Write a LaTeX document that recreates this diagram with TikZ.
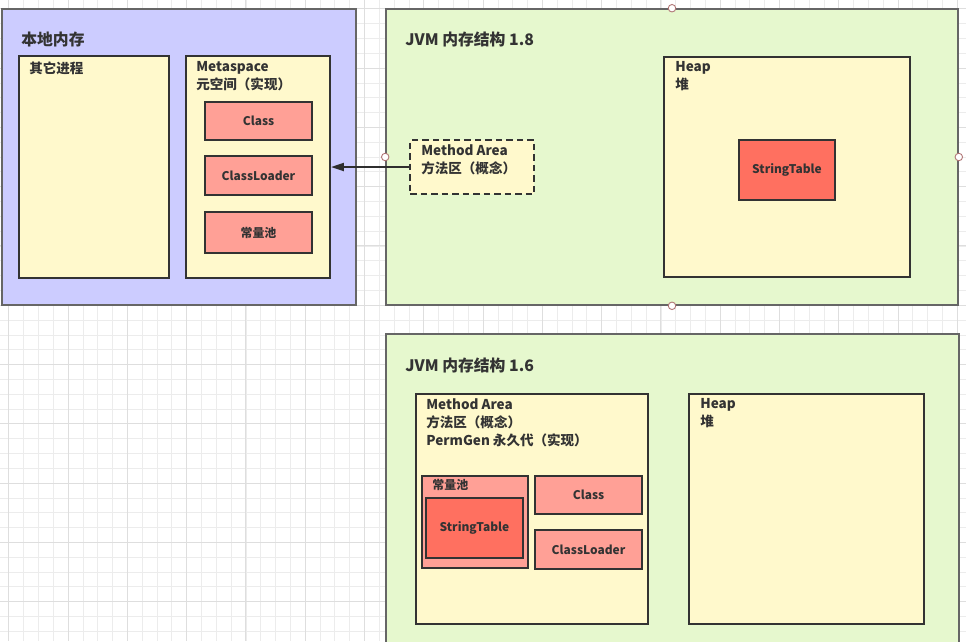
\documentclass[tikz,border=0pt]{standalone}
\usepackage{fontspec}
\setmainfont{Noto Sans CJK SC}
\usetikzlibrary{arrows.meta, positioning, fit}
\definecolor{nativeblue}{RGB}{204,204,255}
\definecolor{jvmgreen}{RGB}{230,248,206}
\definecolor{areayellow}{RGB}{255,249,204}
\definecolor{partred}{RGB}{255,160,150}
\definecolor{tablered}{RGB}{255,112,96}
\definecolor{edgegray}{RGB}{51,51,51}
\definecolor{textgray}{RGB}{51,51,51}
\definecolor{gridminor}{RGB}{236,236,236}
\definecolor{gridmajor}{RGB}{222,222,222}
\definecolor{handlered}{RGB}{175,115,115}

\tikzset{
  region/.style={draw=edgegray!75, line width=0.9pt, fill=#1, inner sep=0pt},
  areabox/.style={draw=edgegray, line width=1.1pt, fill=areayellow, inner sep=0pt},
  partbox/.style={draw=edgegray, line width=1.1pt, fill=#1, inner sep=0pt},
  partlbl/.style={inner sep=0pt, font=\fontsize{6.8}{8}\selectfont\bfseries, text=textgray},
  title/.style={anchor=west, inner sep=0pt, font=\fontsize{9}{10}\selectfont\bfseries, text=textgray},
  lbl/.style={anchor=north west, align=left, inner sep=0pt,
    font=\fontsize{7.7}{10.2}\selectfont\bfseries, text=textgray},
  handle/.style={circle, draw=handlered, fill=white, line width=0.5pt, minimum size=1.5mm, inner sep=0pt},
}

\begin{document}
\begin{tikzpicture}[x=0.2mm, y=-0.2mm, >={Triangle[length=2.6mm, width=1.6mm]}]
  \clip (0,0) rectangle (966,641);
  \fill[white] (0,0) rectangle (966,641);

  % --- grille de fond ---
  \foreach \i in {0,...,65} {
    \draw[gridminor, line width=0.4pt] ({8.8+\i*14.82},0) -- ++(0,641);
  }
  \foreach \j in {0,...,43} {
    \draw[gridminor, line width=0.4pt] (0,{8.8+\j*14.82}) -- ++(966,0);
  }
  \foreach \i in {0,...,16} {
    \draw[gridmajor, line width=0.5pt] ({8.8+\i*59.28},0) -- ++(0,641);
  }
  \foreach \j in {0,...,10} {
    \draw[gridmajor, line width=0.5pt] (0,{8.8+\j*59.28}) -- ++(966,0);
  }

  % --- memoire native ---
  \node[region=nativeblue, fit={(2,9) (356,305)}] (native) {};
  \node[title] (nativeT) at (21,39) {本地内存};
  \node[areabox, fit={(19,56) (169,278)}] (other) {};
  \node[lbl] (otherT) at (29,61) {其它进程};
  \node[areabox, fit={(186,56) (330,278)}] (meta) {};
  \node[lbl] (metaT) at (196,61) {Metaspace\\元空间（实现）};
  \node[partbox=partred, fit={(205,102) (312,140)}] (metaClass) {};
  \node[partlbl] at (metaClass.center) {Class};
  \node[partbox=partred, fit={(205,156) (312,195)}] (metaLoader) {};
  \node[partlbl] at (metaLoader.center) {ClassLoader};
  \node[partbox=partred, fit={(205,212) (312,253)}] (metaPool) {};
  \node[partlbl] at (metaPool.center) {常量池};

  % --- JVM 1.8 ---
  \node[region=jvmgreen, fit={(386,9) (958,305)}] (jvm8) {};
  \node[title] (jvm8T) at (405,39) {JVM 内存结构 1.8};
  \node[areabox, dashed, dash pattern=on 1.3mm off 0.8mm, fit={(410,140) (534,194)}] (ma8) {};
  \node[lbl] (ma8T) at (421,144) {Method Area\\方法区（概念）};
  \node[areabox, fit={(664,57) (910,277)}] (heap8) {};
  \node[lbl] (heap8T) at (675,61) {Heap\\堆};
  \node[partbox=tablered, fit={(739,140) (835,200)}] (table8) {};
  \node[partlbl] at (table8.center) {StringTable};

  % poignees de selection
  \foreach \a in {north, south, west, east} {
    \node[handle] at (jvm8.\a) {};
  }

  % lien methode -> metaspace
  \draw[->, edgegray!90!black, line width=1.2pt] (ma8.west) -- (meta.east);

  % --- JVM 1.6 ---
  \node[region=jvmgreen, fit={(386,334) (959,660)}] (jvm6) {};
  \node[title] (jvm6T) at (405,365) {JVM 内存结构 1.6};
  \node[areabox, fit={(416,394) (648,624)}] (ma6) {};
  \node[lbl] (ma6T) at (426,398) {Method Area\\方法区（概念）\\PermGen 永久代（实现）};
  \node[partbox=partred, fit={(422,476) (528,568)}] (pool6) {};
  \node[partlbl, anchor=north west] (pool6T) at (432,479) {常量池};
  \node[partbox=tablered, fit={(426,498) (523,558)}] (table6) {};
  \node[partlbl] at (table6.center) {StringTable};
  \node[partbox=partred, fit={(535,476) (642,514)}] (class6) {};
  \node[partlbl] at (class6.center) {Class};
  \node[partbox=partred, fit={(535,530) (642,569)}] (loader6) {};
  \node[partlbl] at (loader6.center) {ClassLoader};
  \node[areabox, fit={(689,394) (924,624)}] (heap6) {};
  \node[lbl] (heap6T) at (700,398) {Heap\\堆};
\end{tikzpicture}
\end{document}
